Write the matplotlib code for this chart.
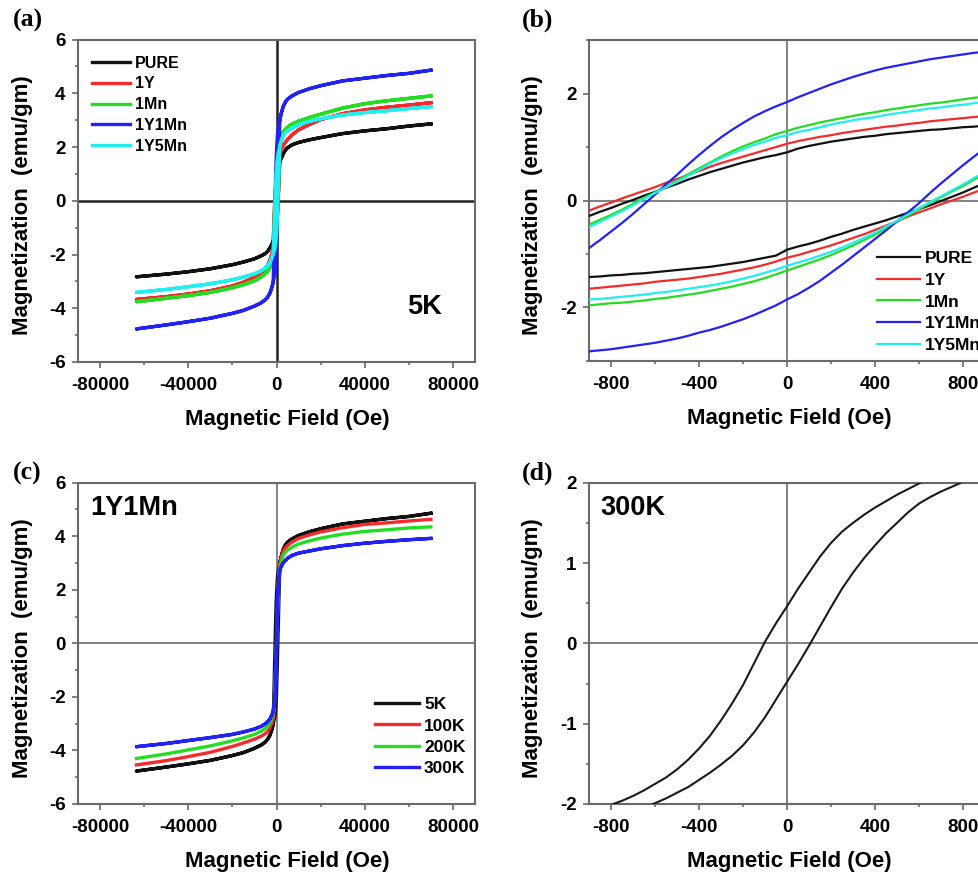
import matplotlib
matplotlib.use("Agg")
import matplotlib.pyplot as plt
from matplotlib.ticker import MultipleLocator

plt.rcParams['font.family'] = ['Liberation Sans', 'DejaVu Sans']
plt.rcParams['font.weight'] = 'bold'
plt.rcParams['axes.unicode_minus'] = False

# ---------------------------------------------------------------------------
# Field grids (Oe)
H_NEG = [-63500, -50000, -40000, -30000, -20000, -15000, -10000, -7000, -5000,
         -4000, -3000, -2000, -1500]
H_NEAR = [-900, -850, -800, -750, -700, -650, -600, -550, -500, -450, -400,
          -350, -300, -250, -200, -150, -100, -50, 0, 50, 100, 150, 200, 250,
          300, 350, 400, 450, 500, 550, 600, 650, 700, 750, 800, 850, 900]
H_POS = [1500, 2000, 3000, 4000, 5000, 7000, 10000, 15000, 20000, 30000,
         40000, 50000, 60000, 70000]
H_MID = [-1000, 0, 1000]

# ---------------------------------------------------------------------------
# 5 K loops of the doped samples (emu/gm)
SAMPLES = ['PURE', '1Y', '1Mn', '1Y1Mn', '1Y5Mn']
SAMPLE_COLORS = ['#111111', '#f52a2a', '#22dd22', '#2222f5', '#22eeee']

PURE_neg = [-2.83, -2.73, -2.64, -2.53, -2.38, -2.28, -2.16, -2.05, -1.96,
            -1.88, -1.76, -1.60, -1.50]
PURE_up = [-0.29, -0.21, -0.14, -0.06, 0.01, 0.09, 0.16, 0.24, 0.31, 0.39,
           0.46, 0.53, 0.59, 0.65, 0.71, 0.76, 0.81, 0.85, 0.90, 0.97, 1.02,
           1.06, 1.10, 1.13, 1.16, 1.19, 1.21, 1.24, 1.26, 1.28, 1.30, 1.32,
           1.33, 1.35, 1.37, 1.38, 1.40]
PURE_dn = [-1.43, -1.42, -1.40, -1.39, -1.37, -1.36, -1.34, -1.32, -1.30,
           -1.28, -1.26, -1.24, -1.21, -1.18, -1.15, -1.11, -1.07, -1.03,
           -0.92, -0.86, -0.81, -0.75, -0.68, -0.62, -0.55, -0.49, -0.43,
           -0.37, -0.30, -0.23, -0.16, -0.09, -0.01, 0.07, 0.15, 0.24, 0.33]
PURE_pos = [1.45, 1.55, 1.74, 1.88, 1.97, 2.08, 2.17, 2.27, 2.35, 2.50, 2.60,
            2.68, 2.78, 2.86]

Y_neg = [-3.67, -3.57, -3.47, -3.35, -3.17, -3.03, -2.85, -2.68, -2.52, -2.40,
         -2.22, -1.95, -1.82]
Y_up = [-0.19, -0.11, -0.04, 0.04, 0.11, 0.18, 0.25, 0.33, 0.40, 0.48, 0.55,
        0.63, 0.70, 0.76, 0.82, 0.88, 0.94, 1.00, 1.06, 1.11, 1.15, 1.19, 1.22,
        1.26, 1.29, 1.32, 1.35, 1.38, 1.40, 1.43, 1.45, 1.48, 1.50, 1.52, 1.54,
        1.56, 1.58]
Y_dn = [-1.65, -1.63, -1.61, -1.59, -1.57, -1.55, -1.52, -1.50, -1.48, -1.46,
        -1.43, -1.40, -1.37, -1.33, -1.29, -1.25, -1.20, -1.14, -1.07, -1.02,
        -0.96, -0.90, -0.84, -0.77, -0.70, -0.63, -0.55, -0.47, -0.39, -0.30,
        -0.22, -0.15, -0.07, 0.00, 0.07, 0.15, 0.22]
Y_pos = [1.80, 1.90, 2.05, 2.17, 2.28, 2.45, 2.64, 2.84, 3.02, 3.24, 3.38,
         3.48, 3.56, 3.65]

Mn_neg = [-3.76, -3.63, -3.53, -3.41, -3.24, -3.12, -2.98, -2.84, -2.71, -2.62,
          -2.48, -2.25, -2.10]
Mn_up = [-0.45, -0.36, -0.27, -0.17, -0.06, 0.05, 0.15, 0.26, 0.37, 0.49, 0.60,
         0.71, 0.82, 0.92, 1.01, 1.09, 1.16, 1.24, 1.30, 1.36, 1.41, 1.46, 1.50,
         1.54, 1.58, 1.62, 1.65, 1.69, 1.72, 1.75, 1.78, 1.81, 1.83, 1.86, 1.89,
         1.92, 1.94]
Mn_dn = [-1.96, -1.94, -1.92, -1.91, -1.89, -1.87, -1.84, -1.82, -1.79, -1.76,
         -1.73, -1.69, -1.65, -1.61, -1.56, -1.51, -1.45, -1.38, -1.31, -1.24,
         -1.17, -1.10, -1.02, -0.93, -0.84, -0.74, -0.64, -0.52, -0.39, -0.28,
         -0.16, -0.05, 0.06, 0.17, 0.27, 0.39, 0.50]
Mn_pos = [2.15, 2.32, 2.55, 2.66, 2.74, 2.85, 2.96, 3.10, 3.22, 3.45, 3.61,
          3.72, 3.81, 3.90]

Y1Mn_neg = [-4.77, -4.62, -4.50, -4.37, -4.19, -4.08, -3.92, -3.80, -3.68,
            -3.58, -3.44, -3.20, -3.02]
Y1Mn_up = [-0.89, -0.74, -0.58, -0.42, -0.25, -0.07, 0.11, 0.30, 0.48, 0.67,
           0.85, 1.02, 1.18, 1.32, 1.45, 1.57, 1.67, 1.76, 1.84, 1.93, 2.01,
           2.09, 2.17, 2.24, 2.31, 2.37, 2.43, 2.48, 2.52, 2.56, 2.60, 2.64,
           2.67, 2.70, 2.73, 2.76, 2.78]
Y1Mn_dn = [-2.82, -2.80, -2.78, -2.75, -2.72, -2.69, -2.66, -2.62, -2.58,
           -2.53, -2.47, -2.42, -2.36, -2.29, -2.22, -2.14, -2.05, -1.96,
           -1.85, -1.75, -1.63, -1.50, -1.35, -1.20, -1.04, -0.88, -0.72,
           -0.56, -0.39, -0.22, -0.05, 0.14, 0.32, 0.49, 0.66, 0.82, 0.98]
Y1Mn_pos = [3.00, 3.20, 3.50, 3.67, 3.78, 3.90, 4.03, 4.17, 4.28, 4.46, 4.56,
            4.66, 4.74, 4.86]

Y5Mn_neg = [-3.41, -3.30, -3.20, -3.09, -2.94, -2.84, -2.72, -2.61, -2.50,
            -2.42, -2.31, -2.10, -1.98]
Y5Mn_up = [-0.50, -0.40, -0.30, -0.20, -0.09, 0.03, 0.14, 0.25, 0.35, 0.46,
           0.57, 0.69, 0.79, 0.88, 0.96, 1.04, 1.10, 1.17, 1.22, 1.28, 1.32,
           1.37, 1.42, 1.46, 1.50, 1.53, 1.56, 1.60, 1.63, 1.66, 1.69, 1.72,
           1.74, 1.77, 1.79, 1.82, 1.84]
Y5Mn_dn = [-1.85, -1.84, -1.82, -1.80, -1.78, -1.76, -1.73, -1.71, -1.68,
           -1.65, -1.62, -1.59, -1.55, -1.51, -1.46, -1.41, -1.35, -1.29,
           -1.22, -1.16, -1.10, -1.03, -0.96, -0.88, -0.79, -0.70, -0.60,
           -0.49, -0.38, -0.26, -0.14, -0.03, 0.08, 0.19, 0.30, 0.42, 0.53]
Y5Mn_pos = [2.05, 2.20, 2.43, 2.53, 2.60, 2.70, 2.83, 2.96, 3.05, 3.19, 3.28,
            3.35, 3.43, 3.50]

# ---------------------------------------------------------------------------
# 1Y1Mn at several temperatures
TEMPS = ['5K', '100K', '200K', '300K']
TEMP_COLORS = ['#111111', '#f52a2a', '#22dd22', '#2222f5']

T100_neg = [-4.54, -4.38, -4.23, -4.07, -3.85, -3.72, -3.58, -3.47, -3.37,
            -3.29, -3.16, -2.95, -2.80]
T100_mid = [-2.50, 0.00, 2.60]
T100_pos = [2.95, 3.15, 3.45, 3.57, 3.65, 3.78, 3.92, 4.05, 4.16, 4.32, 4.44,
            4.50, 4.57, 4.63]

T200_neg = [-4.30, -4.13, -3.98, -3.83, -3.64, -3.53, -3.40, -3.28, -3.17,
            -3.08, -2.97, -2.78, -2.62]
T200_mid = [-2.35, 0.00, 2.45]
T200_pos = [2.82, 3.00, 3.28, 3.40, 3.48, 3.59, 3.71, 3.83, 3.93, 4.08, 4.18,
            4.24, 4.31, 4.35]

T300_neg = [-3.86, -3.74, -3.63, -3.52, -3.40, -3.31, -3.20, -3.10, -3.00,
            -2.93, -2.83, -2.66, -2.52]
T300_up = [-2.12, -2.07, -2.01, -1.96, -1.90, -1.83, -1.75, -1.67, -1.57,
           -1.45, -1.31, -1.15, -0.96, -0.75, -0.52, -0.25, 0.02, 0.25, 0.46,
           0.68, 0.88, 1.08, 1.25, 1.39, 1.50, 1.60, 1.69, 1.77, 1.85, 1.92,
           1.99, 2.05, 2.10, 2.15, 2.19, 2.23, 2.26]
T300_dn = [-2.26, -2.22, -2.18, -2.14, -2.10, -2.05, -1.99, -1.93, -1.86,
           -1.79, -1.70, -1.61, -1.51, -1.40, -1.27, -1.11, -0.92, -0.70,
           -0.48, -0.26, -0.03, 0.21, 0.45, 0.68, 0.88, 1.06, 1.22, 1.37, 1.50,
           1.63, 1.74, 1.82, 1.89, 1.95, 2.01, 2.06, 2.11]
T300_pos = [2.72, 2.85, 3.00, 3.10, 3.18, 3.28, 3.37, 3.45, 3.53, 3.65, 3.74,
            3.81, 3.87, 3.92]


def loop(neg, up, dn, pos):
    """Closed hysteresis loop: descending branch then ascending branch."""
    h = H_POS[::-1] + H_NEAR[::-1] + H_NEG[::-1] + H_NEG + H_NEAR + H_POS
    m = pos[::-1] + up[::-1] + neg[::-1] + neg + dn + pos
    return h, m


def curve(neg, mid, pos):
    return H_NEG + H_MID + H_POS, neg + mid + pos


sample_loops = [loop(PURE_neg, PURE_up, PURE_dn, PURE_pos),
                loop(Y_neg, Y_up, Y_dn, Y_pos),
                loop(Mn_neg, Mn_up, Mn_dn, Mn_pos),
                loop(Y1Mn_neg, Y1Mn_up, Y1Mn_dn, Y1Mn_pos),
                loop(Y5Mn_neg, Y5Mn_up, Y5Mn_dn, Y5Mn_pos)]

temp_loops = [sample_loops[3],
              curve(T100_neg, T100_mid, T100_pos),
              curve(T200_neg, T200_mid, T200_pos),
              loop(T300_neg, T300_up, T300_dn, T300_pos)]

# ---------------------------------------------------------------------------
W, Hpx = 979, 874
fig = plt.figure(figsize=(W / 100, Hpx / 100), dpi=100)


def add_axes(x0, y0, x1, y1):
    return fig.add_axes([x0 / W, 1 - y1 / Hpx, (x1 - x0) / W, (y1 - y0) / Hpx])


ax_a = add_axes(78, 39.5, 475, 362)
ax_b = add_axes(589, 40, 985, 361)
ax_c = add_axes(78, 482.7, 475, 804)
ax_d = add_axes(589, 482.7, 985, 804)

SPINE = '#6a6a6a'


def style(ax, xlim, ylim, xmaj, xmin, ymaj, ymin, zero_color, zero_lw,
          xlab_x, ylab_x):
    ax.set_xlim(*xlim)
    ax.set_ylim(*ylim)
    ax.xaxis.set_major_locator(MultipleLocator(xmaj))
    ax.xaxis.set_minor_locator(MultipleLocator(xmin))
    ax.yaxis.set_major_locator(MultipleLocator(ymaj))
    ax.yaxis.set_minor_locator(MultipleLocator(ymin))
    ax.tick_params(which='both', direction='out', top=False, right=False,
                   color=SPINE, width=1.2)
    ax.tick_params(which='major', length=4, labelsize=13.5, pad=5)
    ax.tick_params(axis='x', which='major', pad=7)
    ax.tick_params(which='minor', length=2.5)
    for s in ax.spines.values():
        s.set_color(SPINE)
        s.set_linewidth(1.5)
    for lab in ax.get_xticklabels() + ax.get_yticklabels():
        lab.set_fontweight('bold')
    ax.axhline(0, color=zero_color, lw=zero_lw, zorder=1)
    ax.axvline(0, color=zero_color, lw=zero_lw, zorder=1)
    ax.set_xlabel('Magnetic Field (Oe)', fontsize=16, fontweight='bold')
    ax.set_ylabel('Magnetization  (emu/gm)', fontsize=16, fontweight='bold')
    ax.xaxis.set_label_coords(xlab_x, -0.147)
    ax.yaxis.set_label_coords(ylab_x, 0.485)


# (a) wide-field loops at 5 K
for (h, m), name, col in zip(sample_loops, SAMPLES, SAMPLE_COLORS):
    ax_a.plot(h, m, color=col, lw=2.4, label=name, zorder=3)
style(ax_a, (-90000, 90000), (-6, 6), 40000, 20000, 2, 1, '#222222', 1.8,
      0.526, -0.113)
ax_a.legend(loc='upper left', bbox_to_anchor=(0.035, 0.95), frameon=False,
            handlelength=2.4, handletextpad=0.3, labelspacing=0.36,
            borderpad=0, borderaxespad=0, prop={'weight': 'bold', 'size': 11.5})
ax_a.text(59000, -3.95, '5K', fontsize=19.5, fontweight='bold',
          va='center', ha='left')

# (b) low-field detail of the same loops
for (h, m), name, col in zip(sample_loops, SAMPLES, SAMPLE_COLORS):
    ax_b.plot(h, m, color=col, lw=1.6, label=name, zorder=3)
style(ax_b, (-900, 900), (-3, 3), 400, 200, 2, 1, '#777777', 1.3,
      0.505, -0.116)
ax_b.legend(loc='upper left', bbox_to_anchor=(0.7265, 0.343), frameon=False,
            handlelength=2.5, handletextpad=0.3, labelspacing=0.38,
            borderpad=0, borderaxespad=0, prop={'weight': 'bold', 'size': 12.5})

# (c) 1Y1Mn at several temperatures
for (h, m), name, col in zip(temp_loops, TEMPS, TEMP_COLORS):
    ax_c.plot(h, m, color=col, lw=2.4, label=name, zorder=3)
style(ax_c, (-90000, 90000), (-6, 6), 40000, 20000, 2, 1, '#7a7a7a', 1.3,
      0.526, -0.113)
ax_c.legend(loc='upper left', bbox_to_anchor=(0.749, 0.333), frameon=False,
            handlelength=2.5, handletextpad=0.3, labelspacing=0.36,
            borderpad=0, borderaxespad=0, prop={'weight': 'bold', 'size': 12.5})
ax_c.text(-84600, 5.04, '1Y1Mn', fontsize=19.5, fontweight='bold',
          va='center', ha='left')

# (d) 300 K low-field loop
h300, m300 = temp_loops[3]
ax_d.plot(h300, m300, color='#1a1a1a', lw=1.5, zorder=3)
style(ax_d, (-900, 900), (-2, 2), 400, 200, 1, 0.5, '#777777', 1.3,
      0.505, -0.116)
ax_d.text(-849, 1.68, '300K', fontsize=19.5, fontweight='bold',
          va='center', ha='left')

# panel letters
for txt, x, y in [('(a)', 13, 20), ('(b)', 522, 20), ('(c)', 13, 473),
                  ('(d)', 522, 473)]:
    fig.text(x / W, 1 - y / Hpx, txt, fontsize=18.5, fontweight='bold',
             family=['Liberation Serif', 'DejaVu Serif'], va='center', ha='left')

fig.savefig('out.png', dpi=100)
